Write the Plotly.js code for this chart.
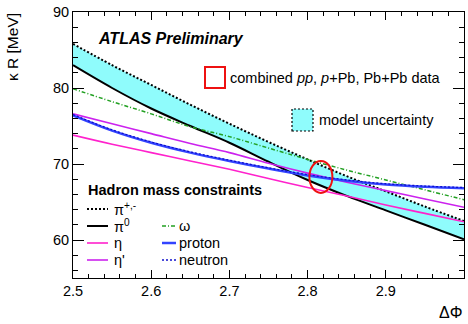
<!DOCTYPE html>
<html>
<head>
<meta charset="utf-8">
<script src="https://cdn.plot.ly/plotly-3.0.1.min.js"></script>
<style>html,body{margin:0;padding:0;background:#fff;}#chart{width:468px;height:324px;}</style>
</head>
<body>
<div id="chart"></div>
<script>
// ---- data ----
const dPhi      = [2.5, 2.55, 2.6, 2.65, 2.7, 2.75, 2.8, 2.85, 2.9, 2.95, 3.0];
const piCharged = [85.8, 83.0, 80.4, 77.8, 75.3, 72.9, 70.6, 68.4, 66.4, 64.4, 62.5];
const piNeutral = [83.0, 80.0, 77.3, 75.0, 72.8, 70.3, 67.9, 65.8, 63.9, 62.0, 60.1];
const omega     = [79.9, 78.2, 76.6, 74.9, 73.6, 72.1, 70.6, 69.2, 67.9, 66.6, 65.3];
const eta       = [73.8, 72.6, 71.5, 70.4, 69.3, 68.1, 66.9, 65.8, 64.6, 63.5, 62.4];
const etaPrime  = [76.6, 75.3, 74.0, 72.7, 71.5, 70.1, 68.8, 67.6, 66.5, 65.4, 64.3];
const proton    = [76.4, 74.4, 72.8, 71.5, 70.4, 69.4, 68.5, 67.8, 67.3, 67.0, 66.8];
const neutron   = [76.5, 74.5, 72.9, 71.6, 70.5, 69.5, 68.6, 67.9, 67.4, 67.1, 66.9];
// combined data constraint (ellipse): centre and half-widths
const dataCentre = [2.817, 68.3];
const dataHalf   = [0.0147, 2.1];
const legendLeft  = ["π<sup>+,-</sup>", "π<sup>0</sup>", "η", "η'"];
const legendRight = ["ω", "proton", "neutron"];

// ---- layout helpers (pixel -> paper) ----
const L = 73, R = 464, T = 12, B = 278;
const px = p => (p - L) / (R - L);
const py = p => (B - p) / (B - T);
const FONT = "Liberation Sans, Arial, Helvetica, sans-serif";

const cyan = '#8ffcfc';
const cPiC = '#000000', cPi0 = '#000000', cEta = '#ff22cc', cEtaP = '#cc22ee',
      cOm = '#22a022', cP = '#3344ff', cN = '#1010cc';
const dotDash = '2px,2px';
const omDash = '4px,2px,1px,2px';

const traces = [
  {x: dPhi, y: piNeutral, mode: 'lines', line: {color: cPi0, width: 2, shape: 'spline'}},
  {x: dPhi, y: piCharged, mode: 'lines', fill: 'tonexty', fillcolor: cyan,
   line: {color: cPiC, width: 2, dash: dotDash, shape: 'spline'}},
  {x: dPhi, y: eta, mode: 'lines', line: {color: cEta, width: 1.6, shape: 'spline'}},
  {x: dPhi, y: etaPrime, mode: 'lines', line: {color: cEtaP, width: 1.6, shape: 'spline'}},
  {x: dPhi, y: omega, mode: 'lines', line: {color: cOm, width: 1.5, dash: omDash, shape: 'spline'}},
  {x: dPhi, y: proton, mode: 'lines', line: {color: cP, width: 2.5, shape: 'spline'}},
  {x: dPhi, y: neutron, mode: 'lines', line: {color: cN, width: 1.3, dash: dotDash, shape: 'spline'}}
];

const shapes = [
  {type: 'circle', xref: 'x', yref: 'y',
   x0: dataCentre[0] - dataHalf[0], x1: dataCentre[0] + dataHalf[0],
   y0: dataCentre[1] - dataHalf[1], y1: dataCentre[1] + dataHalf[1],
   line: {color: '#ee1111', width: 2}, layer: 'above'},
  // legend boxes
  {type: 'rect', xref: 'paper', yref: 'paper', x0: px(205), x1: px(225), y0: py(88), y1: py(67),
   line: {color: '#ee1111', width: 2}, fillcolor: 'rgba(0,0,0,0)', layer: 'above'},
  {type: 'rect', xref: 'paper', yref: 'paper', x0: px(292), x1: px(313), y0: py(131), y1: py(109),
   line: {color: '#000', width: 1.2, dash: '2px,2px'}, fillcolor: cyan, layer: 'above'}
];

const leftStyles = [
  {color: cPiC, width: 2, dash: dotDash},
  {color: cPi0, width: 2},
  {color: cEta, width: 1.6},
  {color: cEtaP, width: 1.6}
];
const rightStyles = [
  {color: cOm, width: 1.5, dash: omDash},
  {color: cP, width: 2.5},
  {color: cN, width: 1.3, dash: dotDash}
];
const leftRows = [209, 226, 243, 260];
const rightRows = [226, 243, 260];

const annotations = [
  {text: '<b><i>ATLAS Preliminary</i></b>', x: px(96), y: py(39), xanchor: 'left', yanchor: 'middle',
   font: {size: 16, family: FONT, color: '#000'}},
  {text: 'combined <i>pp</i>, <i>p</i>+Pb, Pb+Pb data', x: px(228), y: py(78), xanchor: 'left', yanchor: 'middle',
   font: {size: 14.5, family: FONT, color: '#000'}},
  {text: 'model uncertainty', x: px(317), y: py(120), xanchor: 'left', yanchor: 'middle',
   font: {size: 14.5, family: FONT, color: '#000'}},
  {text: '<b>Hadron mass constraints</b>', x: px(86), y: py(190), xanchor: 'left', yanchor: 'middle',
   font: {size: 14.5, family: FONT, color: '#000'}},
  {text: 'κ R [MeV]', x: -60/(R-L), y: py(47), xanchor: 'center', yanchor: 'middle', textangle: -90,
   font: {size: 15.5, family: FONT, color: '#000'}},
  {text: 'ΔΦ', x: px(464), y: py(312), xanchor: 'right', yanchor: 'middle',
   font: {size: 16, family: FONT, color: '#000'}}
];

legendLeft.forEach((t, i) => {
  shapes.push({type: 'line', xref: 'paper', yref: 'paper', x0: px(87), x1: px(108),
    y0: py(leftRows[i]), y1: py(leftRows[i]), line: leftStyles[i]});
  annotations.push({text: t, x: px(112), y: py(leftRows[i]), xanchor: 'left', yanchor: 'middle',
    font: {size: 14.5, family: FONT, color: '#000'}});
});
legendRight.forEach((t, i) => {
  shapes.push({type: 'line', xref: 'paper', yref: 'paper', x0: px(162), x1: px(176),
    y0: py(rightRows[i]), y1: py(rightRows[i]), line: rightStyles[i]});
  annotations.push({text: t, x: px(177), y: py(rightRows[i]), xanchor: 'left', yanchor: 'middle',
    font: {size: 14.5, family: FONT, color: '#000'}});
});
annotations.forEach(a => { a.xref = 'paper'; a.yref = 'paper'; a.showarrow = false; });

const layout = {
  width: 468, height: 324,
  margin: {l: L, r: 468 - R, t: T, b: 324 - B},
  paper_bgcolor: '#fff', plot_bgcolor: '#fff',
  showlegend: false,
  font: {family: FONT, size: 14.5, color: '#000'},
  xaxis: {range: [2.5, 3.0], dtick: 0.1, tick0: 2.5, ticks: 'inside', ticklen: 8, tickwidth: 1,
    tickcolor: '#000', showline: true, linecolor: '#000', linewidth: 1, mirror: 'allticks',
    showgrid: false, zeroline: false, tickfont: {size: 14.5, family: FONT},
    minor: {dtick: 0.02, ticks: 'inside', ticklen: 4, tickcolor: '#000', showgrid: false}},
  yaxis: {range: [55, 90], dtick: 10, tick0: 60, ticks: 'inside', ticklen: 11, tickwidth: 1,
    tickcolor: '#000', showline: true, linecolor: '#000', linewidth: 1, mirror: 'allticks',
    showgrid: false, zeroline: false, tickfont: {size: 14.5, family: FONT},
    minor: {dtick: 2, ticks: 'inside', ticklen: 5, tickcolor: '#000', showgrid: false}},
  shapes: shapes,
  annotations: annotations
};

Plotly.newPlot('chart', traces, layout, {staticPlot: true, displayModeBar: false});
</script>
</body>
</html>
